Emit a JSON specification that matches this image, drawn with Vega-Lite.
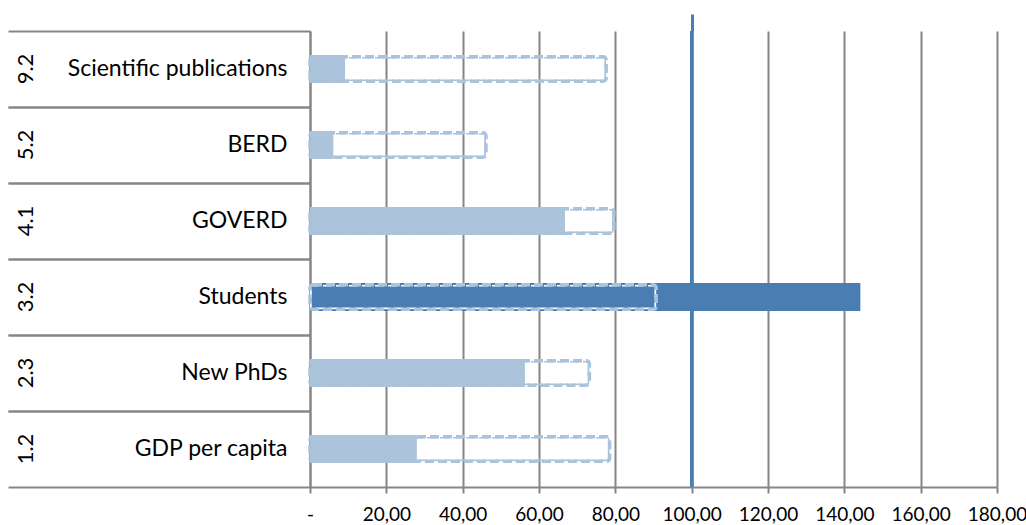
{
  "$schema": "https://vega.github.io/schema/vega-lite/v6.json",
  "autosize": "none",
  "width": 687,
  "height": 456,
  "padding": {"left": 310, "top": 31, "right": 29, "bottom": 38},
  "background": "white",
  "config": {
    "view": {"stroke": null},
    "font": "Lato",
    "axis": {"labelColor": "#000000", "title": null}
  },
  "data": {
    "values": [
      {"code": "9.2", "indicator": "Scientific publications", "score": 9.2, "benchmark": 77.6},
      {"code": "5.2", "indicator": "BERD", "score": 6.1, "benchmark": 46.1},
      {"code": "4.1", "indicator": "GOVERD", "score": 66.8, "benchmark": 79.6},
      {"code": "3.2", "indicator": "Students", "score": 144.2, "benchmark": 90.7},
      {"code": "2.3", "indicator": "New PhDs", "score": 56.3, "benchmark": 73.2},
      {"code": "1.2", "indicator": "GDP per capita", "score": 28.0, "benchmark": 78.5}
    ]
  },
  "resolve": {
    "scale": {"y": "independent"},
    "axis": {"x": "independent", "y": "independent"}
  },
  "layer": [
    {
      "mark": {"type": "rule", "color": "#4A7DB1", "strokeWidth": 3},
      "encoding": {
        "x": {
          "datum": 100,
          "type": "quantitative",
          "scale": {"domain": [0, 180], "nice": false},
          "axis": {
            "orient": "top",
            "values": [100],
            "labels": false,
            "domain": false,
            "grid": false,
            "ticks": true,
            "tickColor": "#4A7DB1",
            "tickWidth": 3,
            "tickSize": 17
          }
        }
      }
    },
    {
      "mark": {"type": "bar", "size": 28},
      "encoding": {
        "y": {
          "field": "indicator",
          "type": "nominal",
          "sort": null,
          "scale": {"paddingInner": 0, "paddingOuter": 0},
          "axis": {
            "orient": "left",
            "domain": true,
            "domainColor": "#868686",
            "domainWidth": 2,
            "ticks": true,
            "tickColor": "#868686",
            "tickWidth": 2,
            "tickSize": 302,
            "bandPosition": 0,
            "labelPadding": -279,
            "labelAlign": "right",
            "labelBaseline": "middle",
            "labelFontSize": 23,
            "labelLimit": 300
          }
        },
        "x": {
          "field": "score",
          "type": "quantitative",
          "scale": {"domain": [0, 180], "nice": false},
          "axis": {
            "orient": "bottom",
            "values": [0, 20, 40, 60, 80, 100, 120, 140, 160, 180],
            "labelExpr": "datum.value == 0 ? '-' : replace(format(datum.value, '.2f'), '.', ',')",
            "labelFontSize": 19,
            "labelPadding": 12,
            "labelOverlap": false,
            "labelFlush": false,
            "labelBound": false,
            "grid": true,
            "gridColor": "#868686",
            "gridWidth": 2,
            "domain": true,
            "domainColor": "#868686",
            "domainWidth": 2,
            "ticks": true,
            "tickColor": "#868686",
            "tickWidth": 2,
            "tickSize": 6
          }
        },
        "color": {
          "condition": {"test": "datum.indicator === 'Students'", "value": "#4A7DB1"},
          "value": "#ABC3DB"
        }
      }
    },
    {
      "mark": {
        "type": "bar",
        "size": 24.5,
        "fillOpacity": 0,
        "strokeWidth": 3.5,
        "strokeDash": [9, 4],
        "cornerRadius": 3
      },
      "encoding": {
        "y": {
          "field": "code",
          "type": "nominal",
          "sort": null,
          "scale": {"paddingInner": 0, "paddingOuter": 0},
          "axis": {
            "orient": "left",
            "domain": false,
            "ticks": true,
            "tickColor": "#868686",
            "tickWidth": 2,
            "tickSize": 302,
            "bandPosition": 1,
            "labelPadding": -17,
            "labelAngle": -90,
            "labelAlign": "center",
            "labelBaseline": "middle",
            "labelFontSize": 22
          }
        },
        "x": {"field": "benchmark", "type": "quantitative", "axis": null},
        "stroke": {
          "condition": {"test": "datum.indicator === 'Students'", "value": "#FFFFFF"},
          "value": "#ABC3DB"
        }
      }
    }
  ]
}
